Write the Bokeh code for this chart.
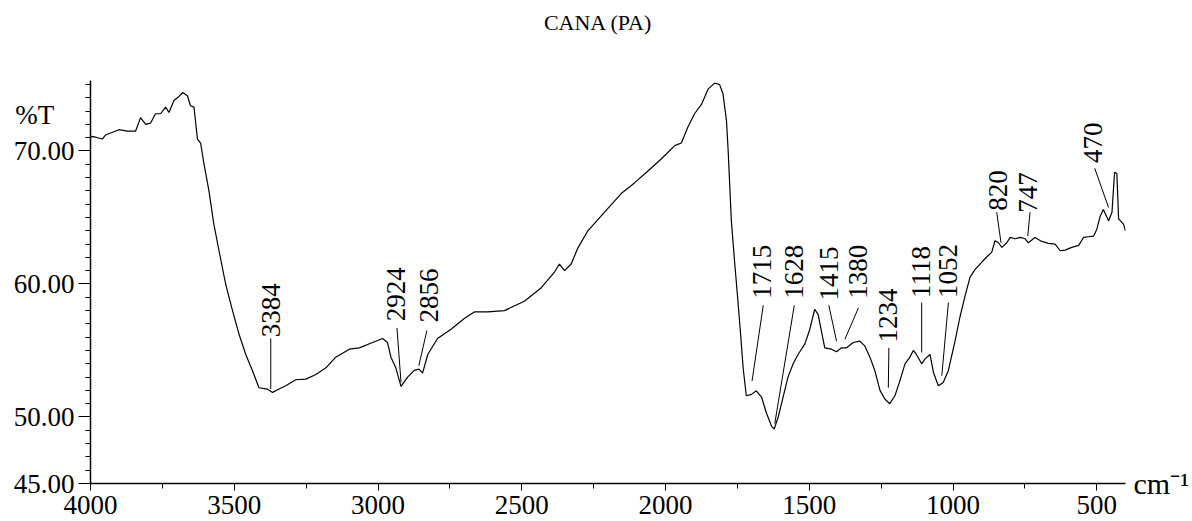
from math import pi
from bokeh.plotting import figure
from bokeh.models import Range1d, FixedTicker, PrintfTickFormatter, LinearAxis, ColumnDataSource
from bokeh.core.properties import value
from bokeh.embed import file_html
from bokeh.resources import INLINE

# ---- spectrum (wavenumber cm-1, %T) ----
wavenumber = [4000, 3994, 3959, 3948, 3901, 3872, 3843, 3826, 3808, 3791, 3774, 3756, 3739, 3727,
              3710, 3692, 3679, 3663, 3652, 3640, 3628, 3617, 3605, 3588, 3571, 3553, 3530, 3506,
              3483, 3460, 3437, 3414, 3385, 3367, 3344, 3321, 3286, 3251, 3216, 3181, 3147, 3100,
              3065, 3019, 2984, 2967, 2955, 2938, 2920, 2897, 2874, 2857, 2845, 2827, 2793, 2746,
              2700, 2665, 2618, 2560, 2491, 2433, 2386, 2369, 2351, 2328, 2305, 2270, 2212, 2154,
              2108, 2061, 2015, 1968, 1945, 1922, 1899, 1875, 1852, 1829, 1812, 1800, 1788, 1782,
              1771, 1759, 1748, 1738, 1730, 1719, 1701, 1684, 1666, 1649, 1631, 1622, 1608, 1591,
              1574, 1556, 1539, 1515, 1498, 1481, 1469, 1458, 1446, 1423, 1405, 1388, 1370, 1347,
              1324, 1307, 1289, 1272, 1254, 1237, 1220, 1202, 1185, 1167, 1150, 1138, 1127, 1109,
              1098, 1080, 1068, 1051, 1034, 1016, 993, 976, 958, 941, 923, 906, 889, 865, 854, 842,
              830, 813, 801, 784, 766, 749, 738, 715, 691, 668, 645, 627, 610, 587, 563, 546, 529,
              511, 500, 488, 477, 459, 447, 438, 430, 424, 407, 400]
transmittance = [71.0, 71.1, 70.9, 71.2, 71.6, 71.5, 71.5, 72.5, 72.0, 72.1, 72.8, 72.8, 73.3, 72.9,
                 73.8, 74.1, 74.4, 74.15, 73.4, 73.3, 70.9, 70.6, 69.0, 67.0, 64.5, 62.5, 60.0, 58.0,
                 56.2, 54.7, 53.5, 52.2, 52.1, 51.85, 52.1, 52.35, 52.8, 52.85, 53.2, 53.7, 54.5, 55.1,
                 55.2, 55.6, 55.9, 55.6, 54.5, 53.7, 52.3, 53.0, 53.5, 53.6, 53.3, 54.7, 55.9, 56.6,
                 57.4, 57.9, 57.9, 58.0, 58.7, 59.7, 60.9, 61.5, 61.0, 61.5, 62.7, 64.0, 65.4, 66.8,
                 67.6, 68.5, 69.4, 70.4, 70.6, 71.8, 72.8, 73.5, 74.65, 75.1, 75.0, 74.3, 72.3, 70.0,
                 64.75, 61.5, 58.7, 56.0, 53.7, 51.6, 51.7, 51.97, 51.5, 50.3, 49.3, 49.1, 50.0, 51.5,
                 53.0, 54.0, 54.7, 55.5, 56.6, 58.1, 57.7, 56.5, 55.2, 55.1, 54.9, 55.2, 55.2, 55.6,
                 55.7, 55.35, 54.5, 53.5, 52.0, 51.35, 51.0, 51.6, 52.7, 54.0, 54.5, 55.0, 54.7, 54.0,
                 54.35, 54.7, 53.35, 52.35, 52.6, 53.5, 55.7, 57.5, 59.1, 60.5, 61.1, 61.5, 61.9, 62.4, 63.25, 63.1,
                 62.75, 63.1, 63.5, 63.4, 63.5, 63.4, 63.1, 63.5, 63.2, 63.05, 63.0, 62.5, 62.55, 62.75, 62.9, 63.5, 63.55,
                 63.6, 64.1, 65.1, 65.6, 64.75, 65.4, 68.4, 68.3, 64.9, 64.5, 64.0]

# ---- peak annotations ----
peak_labels = ["3384", "2924", "2856", "1715", "1628", "1415", "1380", "1234", "1118", "1052", "820", "747", "470"]
label_x = [3373, 2938, 2824, 1663, 1553, 1431, 1332, 1227, 1112, 1019, 844, 740, 513]
label_y = [56.0, 57.2, 57.1, 58.9, 58.9, 58.75, 58.9, 55.6, 58.95, 58.95, 65.5, 65.35, 69.1]
leader_x0 = [3373, 2934, 2830, 1660, 1552, 1432, 1329, 1223, 1109, 1016, 848, 732, 507]
leader_y0 = [55.9, 56.7, 56.5, 58.4, 58.4, 58.4, 58.2, 55.2, 58.6, 58.6, 65.4, 65.4, 68.7]
leader_x1 = [3373, 2920, 2858, 1699, 1620, 1405, 1376, 1225, 1109, 1039, 833, 740, 459]
leader_y1 = [52.1, 52.6, 53.85, 52.7, 49.5, 55.7, 55.85, 52.2, 54.85, 53.1, 63.1, 63.6, 65.75]

x_major_ticks = [4000, 3500, 3000, 2500, 2000, 1500, 1000, 500]
x_minor_ticks = [3750, 3250, 2750, 2250, 1750, 1250, 750]
y_major_ticks = [45, 50, 60, 70]
y_minor_ticks = list(range(45, 76))

TITLE = "CANA (PA)"
TITLE_X = 2234          # wavenumber above which the title is centred
Y_UNIT = "%T"
X_UNIT = "cm\u207b\u00b9"

SERIF = "Liberation Serif"
NB = "\u00a0"

p = figure(width=1192, height=521, output_backend="svg", toolbar_location=None,
           x_range=Range1d(4000, 400), y_range=Range1d(45, 75.3),
           min_border_left=90, min_border_right=67, min_border_top=80, min_border_bottom=38)
p.outline_line_color = None
p.grid.visible = False
p.background_fill_color = "white"
p.border_fill_color = "white"

xa = p.below[0]
ya = p.left[0]

# x axis
xa.ticker = FixedTicker(ticks=x_major_ticks, minor_ticks=x_minor_ticks)
xa.major_label_text_font = SERIF
xa.major_label_text_font_size = "27px"
xa.major_label_text_color = "black"
xa.major_label_standoff = 5
xa.major_tick_out = 7
xa.major_tick_in = 0
xa.minor_tick_out = 5
xa.minor_tick_in = 0
xa.axis_line_width = 1.5
xa.axis_line_color = "black"
xa.major_tick_line_color = "black"
xa.minor_tick_line_color = "black"

# y axis (the %T unit sits above the 70.00 label)
ya.ticker = FixedTicker(ticks=y_major_ticks, minor_ticks=y_minor_ticks)
ya.formatter = PrintfTickFormatter(format="%.2f")
ya.major_label_overrides = {70: Y_UNIT + NB * 3 + "\n70.00\n" + NB}
ya.major_label_text_font = SERIF
ya.major_label_text_font_size = "27px"
ya.major_label_text_color = "black"
ya.major_label_standoff = 4
ya.major_tick_out = 12
ya.major_tick_in = 0
ya.minor_tick_out = 5
ya.minor_tick_in = 0
ya.axis_line_width = 1.5
ya.axis_line_color = "black"
ya.major_tick_line_color = "black"
ya.minor_tick_line_color = "black"

# title, carried by a line-less axis above the frame
ta = LinearAxis(ticker=FixedTicker(ticks=[TITLE_X], minor_ticks=[]),
                major_label_overrides={TITLE_X: TITLE},
                axis_line_color=None, major_tick_line_color=None, minor_tick_line_color=None,
                major_tick_out=0, major_tick_in=0, major_label_standoff=46,
                major_label_text_font=SERIF, major_label_text_font_size="22px",
                major_label_text_color="black")
p.add_layout(ta, "above")

# unit label of the x axis, placed at the right end of the x axis line
ua = LinearAxis(ticker=FixedTicker(ticks=[45], minor_ticks=[]),
                major_label_overrides={45: X_UNIT},
                axis_line_color=None, major_tick_line_color=None, minor_tick_line_color=None,
                major_tick_out=0, major_tick_in=0, major_label_standoff=8,
                major_label_text_font=SERIF, major_label_text_font_size="30px",
                major_label_text_color="black")
p.add_layout(ua, "right")

# spectrum
p.line(wavenumber, transmittance, line_color="black", line_width=1.2)

# peak labels and leader lines
src = ColumnDataSource(dict(x=label_x, y=label_y, t=peak_labels))
p.text(x="x", y="y", text="t", source=src, angle=pi / 2,
       text_align="left", text_baseline="middle",
       text_font=value(SERIF), text_font_size=value("27px"), text_color="black")
p.segment(x0=leader_x0, y0=leader_y0, x1=leader_x1, y1=leader_y1, line_color="black", line_width=1)

open("out.html", "w").write(file_html(p, INLINE))
